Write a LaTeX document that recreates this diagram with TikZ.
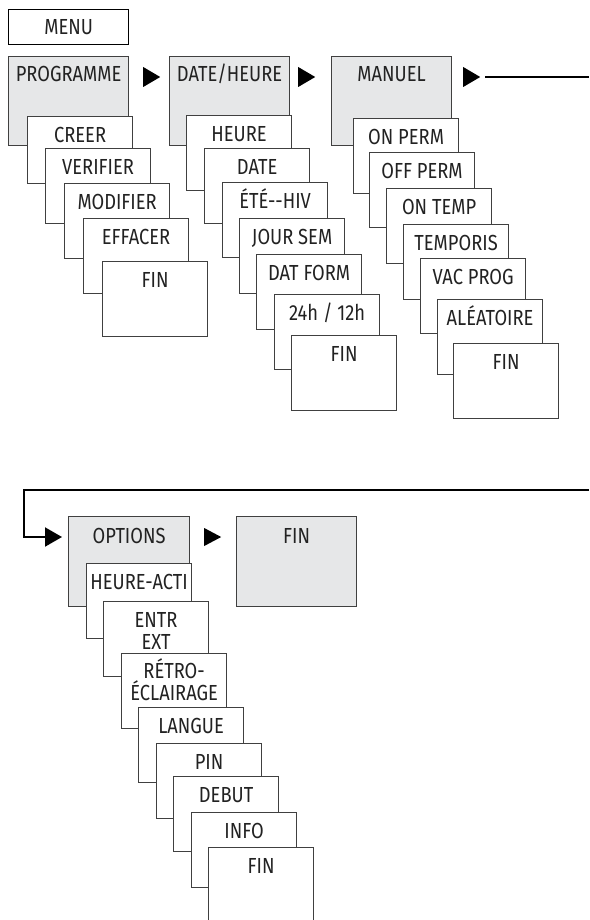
\documentclass[tikz,border=0pt]{standalone}
\usepackage{fontspec}
\usetikzlibrary{arrows.meta}
\newfontfamily\menufont{Fira Sans}[FakeStretch=0.84]
\definecolor{headgray}{HTML}{E6E7E8}
\definecolor{boxline}{HTML}{404040}
\definecolor{txt}{HTML}{222222}

\tikzset{
  box/.style={draw=boxline, line width=0.6pt, fill=white, anchor=north west,
    inner xsep=0pt, inner ysep=0pt, minimum width=52.5pt,
    text height=13pt, text depth=24.5pt, align=center, text=txt,
    font={\menufont\fontsize{10.9pt}{10.8pt}\selectfont}},
  head/.style={box, fill=headgray, minimum width=60pt,
    text height=12.5pt, text depth=32pt},
  tip/.style={fill=black},
  loopline/.style={line width=1pt},
}

\begin{document}
\begin{tikzpicture}[x=0.5pt, y=-0.5pt]
\useasboundingbox (0,0) rectangle (589,920);

% first row
\node[box, draw=black, minimum width=60pt, text height=12.5pt, text depth=5pt] (menu) at (8,9) {MENU};
\node[head] (prog) at (8,56) {PROGRAMME};
\node[head] (date) at (169,56) {DATE/HEURE};
\node[head] (man) at (331,56) {MANUEL};
\fill[tip, shift={(prog.north east)}] (14,11) -- (31,21) -- (14,31) -- cycle;
\fill[tip, shift={(date.north east)}] (8,11) -- (25,21) -- (8,31) -- cycle;
\fill[tip, shift={(man.north east)}] (11,11) -- (28,21) -- (11,31) -- cycle;

% PROGRAMME
\node[box, text depth=20.5pt] (p1) at (27,116) {CREER};
\node[box] (p2) at (45,148) {VERIFIER};
\node[box] (p3) at (64,183) {MODIFIER};
\node[box] (p4) at (83,218) {EFFACER};
\node[box] (p5) at (102,261) {FIN};

% DATE/HEURE
\node[box] (d1) at (186,115) {HEURE};
\node[box] (d2) at (204,148) {DATE};
\node[box] (d3) at (222,182) {ÉTÉ-{}-HIV};
\node[box] (d4) at (239,218) {JOUR SEM};
\node[box] (d5) at (256,254) {DAT FORM};
\node[box] (d6) at (274,294) {24h / 12h};
\node[box] (d7) at (291,335) {FIN};

% MANUEL
\node[box] (m1) at (353,118) {ON PERM};
\node[box] (m2) at (369,152) {OFF PERM};
\node[box] (m3) at (386,188) {ON TEMP};
\node[box] (m4) at (403,224) {TEMPORIS};
\node[box] (m5) at (420,258) {VAC PROG};
\node[box] (m6) at (437,299) {ALÉATOIRE};
\node[box] (m7) at (453,343) {FIN};

% loop to the second row
\coordinate (r1) at (589,77);
\coordinate (r2) at (589,490);
\coordinate (l1) at (24,490);

% second row
\node[head, minimum width=60.5pt, text height=13.5pt, text depth=31.5pt] (opt) at (68,516) {OPTIONS};
\node[head, text height=13.5pt, text depth=31.5pt] (fin) at (236,516) {FIN};
\fill[tip, shift={(opt.north east)}] (14,12) -- (31,21) -- (14,30) -- cycle;

\draw[loopline] ([shift={(33,21)}]man.north east) -- (r1);
\draw[loopline, -{Triangle[length=8.5pt, width=9.5pt]}] (r2) -- (l1) |- ([shift={(-6,21)}]opt.north west);

% OPTIONS
\node[box] (o1) at (86,563) {HEURE-ACTI};
\node[box, text height=23.8pt, text depth=13.7pt] (o2) at (103,601) {ENTR\\EXT};
\node[box, text height=23.3pt, text depth=14.2pt] (o3) at (121,653) {RÉTRO-\\ÉCLAIRAGE};
\node[box] (o4) at (138,707) {LANGUE};
\node[box] (o5) at (156,743) {PIN};
\node[box] (o6) at (173,776) {DEBUT};
\node[box] (o7) at (191,812) {INFO};
\node[box, text depth=40pt] (o8) at (208,847) {FIN};
\end{tikzpicture}
\end{document}
